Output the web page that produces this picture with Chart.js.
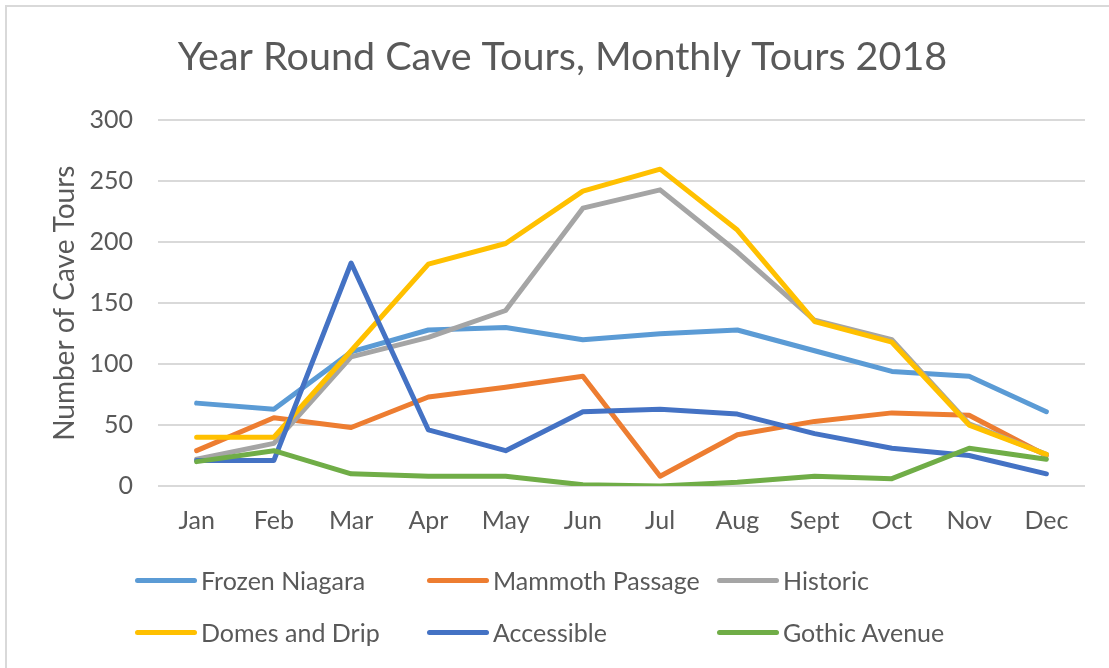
<!DOCTYPE html>
<html>
<head>
<meta charset="utf-8">
<script src="https://cdn.jsdelivr.net/npm/chart.js@4"></script>
<style>
  body { margin: 0; background: #fff; width: 1109px; height: 668px; overflow: hidden; position: relative; font-family: Lato, 'Open Sans', sans-serif; }
  #frame { position: absolute; left: 5px; top: 5px; width: 1200px; height: 800px; border: 2px solid #d9d9d9; box-sizing: border-box; }
  #wrap { position: absolute; left: 0; top: 0; width: 1109px; height: 668px; }
  #legend { position: absolute; left: 0; top: 0; }
  .item { position: absolute; display: flex; align-items: center; color: #595959; font-size: 25px; white-space: nowrap; }
  .item span.line { display: inline-block; width: 62px; height: 5px; border-radius: 3px; margin-right: 4px; }
</style>
</head>
<body>
<div id="frame"></div>
<div id="wrap"><canvas id="c" width="1109" height="668"></canvas></div>
<div id="legend"></div>
<script>
// --- Daten ---
const months = ['Jan', 'Feb', 'Mar', 'Apr', 'May', 'Jun', 'Jul', 'Aug', 'Sept', 'Oct', 'Nov', 'Dec'];
const frozenNiagara = [68, 63, 110, 128, 130, 120, 125, 128, 111, 94, 90, 61];
const mammothPassage = [29, 56, 48, 73, 81, 90, 8, 42, 53, 60, 58, 25];
const historic = [22, 35, 106, 122, 144, 228, 243, 192, 136, 120, 51, 26];
const domesAndDrip = [40, 40, 111, 182, 199, 242, 260, 210, 135, 118, 50, 26];
const accessible = [21, 21, 183, 46, 29, 61, 63, 59, 43, 31, 25, 10];
const gothicAvenue = [20, 29, 10, 8, 8, 1, 0, 3, 8, 6, 31, 22];
const yTicks = [0, 50, 100, 150, 200, 250, 300];

const seriesNames = ['Frozen Niagara', 'Mammoth Passage', 'Historic', 'Domes and Drip', 'Accessible', 'Gothic Avenue'];
const seriesData = [frozenNiagara, mammothPassage, historic, domesAndDrip, accessible, gothicAvenue];
const seriesColors = ['#5B9BD5', '#ED7D31', '#A5A5A5', '#FFC000', '#4472C4', '#70AD47'];

const textColor = '#595959';
const fontFamily = "Lato, 'Open Sans', sans-serif";

// --- Datasets bauen (spätere Serie liegt oben, wie in Excel) ---
const datasets = seriesNames.map((name, i) => ({
    label: name,
    data: seriesData[i],
    borderColor: seriesColors[i],
    backgroundColor: seriesColors[i],
    borderWidth: 5,
    pointRadius: 0,
    tension: 0,
    borderCapStyle: 'round',
    borderJoinStyle: 'round',
    order: seriesNames.length - i
}));

const ctx = document.getElementById('c').getContext('2d');
new Chart(ctx, {
    type: 'line',
    data: { labels: months, datasets: datasets },
    options: {
        responsive: false,
        animation: false,
        layout: { padding: { left: 40, right: 24, top: 34, bottom: 122 } },
        plugins: {
            legend: { display: false },
            tooltip: { enabled: false },
            title: {
                display: true,
                text: 'Year Round Cave Tours, Monthly Tours 2018',
                color: textColor,
                font: { family: fontFamily, size: 39.5, weight: 'normal', lineHeight: 1.2 },
                padding: { top: 0, bottom: 39 }
            }
        },
        scales: {
            x: {
                offset: true,
                grid: { display: false, drawTicks: false },
                border: { display: false },
                ticks: { color: textColor, padding: 20, font: { family: fontFamily, size: 25 }, maxRotation: 0 },
                afterFit: (scale) => { scale.height = 60; }
            },
            y: {
                min: 0,
                max: 300,
                afterBuildTicks: (scale) => { scale.ticks = yTicks.map(v => ({ value: v })); },
                grid: { color: '#d9d9d9', lineWidth: 2, drawTicks: false },
                border: { display: false },
                ticks: { color: textColor, padding: 25, font: { family: fontFamily, size: 25 } },
                title: {
                    display: true,
                    text: 'Number of Cave Tours',
                    color: textColor,
                    font: { family: fontFamily, size: 28 },
                    padding: { top: 8, bottom: 0 }
                },
                afterFit: (scale) => { scale.width = 118; }
            }
        }
    }
});

// --- Legende (Raster mit 3 Spalten wie im Original) ---
const legendEl = document.getElementById('legend');
const colX = [135, 427, 717];
const rowY = [580, 632];
seriesNames.forEach((name, i) => {
    const item = document.createElement('div');
    item.className = 'item';
    item.style.left = colX[i % 3] + 'px';
    item.style.top = (rowY[Math.floor(i / 3)] - 14) + 'px';
    item.style.height = '28px';
    item.innerHTML = '<span class="line" style="background:' + seriesColors[i] + '"></span>' + name;
    legendEl.appendChild(item);
});
</script>
</body>
</html>
